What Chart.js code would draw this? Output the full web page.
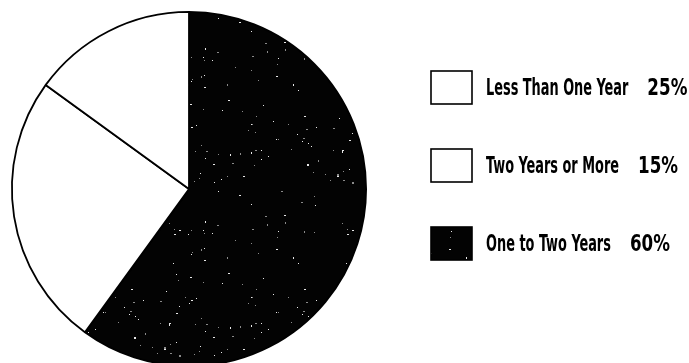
<!DOCTYPE html>
<html>
<head>
<meta charset="utf-8">
<script src="https://cdn.jsdelivr.net/npm/chart.js@4"></script>
<style>
  html, body { margin: 0; padding: 0; background: #fff; overflow: hidden; }
  #wrap { width: 689px; height: 363px; overflow: hidden; }
</style>
</head>
<body>
<div id="wrap"><canvas id="pie" width="689" height="380"></canvas></div>
<script>
// Slices, clockwise from 12 o'clock
const categories = ['One to Two Years', 'Less Than One Year', 'Two Years or More'];
const shares = [60, 25, 15];
// Legend lists the slices in this order
const legendOrder = [1, 2, 0];

// Speckled black fill for the dark slice
function speckle() {
    const n = 173;
    const c = document.createElement('canvas');
    c.width = n; c.height = n;
    const g = c.getContext('2d');
    g.fillStyle = '#030303';
    g.fillRect(0, 0, n, n);
    let s = 9127;
    const next = () => (s = (s * 1103515245 + 12345) % 2147483648) / 2147483648;
    for (let i = 0; i < 110; i++) {
        const x = Math.floor(next() * n), y = Math.floor(next() * n);
        g.fillStyle = next() < 0.5 ? '#e8e8e8' : '#8a8a8a';
        g.fillRect(x, y, next() < 0.3 ? 2 : 1, next() < 0.2 ? 2 : 1);
    }
    return g.createPattern(c, 'repeat');
}

const ctx = document.getElementById('pie').getContext('2d');
const dark = speckle();
const fills = [dark, '#ffffff', '#ffffff'];

const FONT = '"Liberation Sans Narrow", "DejaVu Sans Condensed", sans-serif';

const sideLegend = {
    id: 'sideLegend',
    afterDraw(chart) {
        const g = chart.ctx;
        const rows = [87, 165, 243];
        g.save();
        g.font = '600 23px ' + FONT;
        const sx = 133 / g.measureText('Two Years or More').width;
        g.font = 'bold 23px ' + FONT;
        const px = 40 / g.measureText('15%').width;
        legendOrder.forEach((idx, row) => {
            const cy = rows[row];
            g.fillStyle = fills[idx];
            g.fillRect(431, cy - 16, 41, 33);
            g.strokeStyle = '#000';
            g.lineWidth = 1.6;
            g.strokeRect(431, cy - 16, 41, 33);

            g.fillStyle = '#000';
            g.textBaseline = 'alphabetic';
            g.font = '600 23px ' + FONT;
            const w = g.measureText(categories[idx]).width * sx;
            g.save();
            g.translate(486, cy + 8);
            g.scale(sx, 1);
            g.fillText(categories[idx], 0, 0);
            g.restore();

            g.save();
            g.translate(486 + w + 19, cy + 8);
            g.scale(px, 1);
            g.font = 'bold 23px ' + FONT;
            g.fillText(shares[idx] + '%', 0, 0);
            g.restore();
        });
        g.restore();
    }
};

new Chart(ctx, {
    type: 'pie',
    data: {
        labels: categories,
        datasets: [{
            data: shares,
            backgroundColor: fills,
            borderColor: '#000',
            borderWidth: 1.8,
            hoverOffset: 0
        }]
    },
    options: {
        responsive: false,
        animation: false,
        layout: { padding: { left: 11, top: 11, right: 322, bottom: 13 } },
        plugins: { legend: { display: false }, tooltip: { enabled: false } },
        events: []
    },
    plugins: [sideLegend]
});
</script>
</body>
</html>
